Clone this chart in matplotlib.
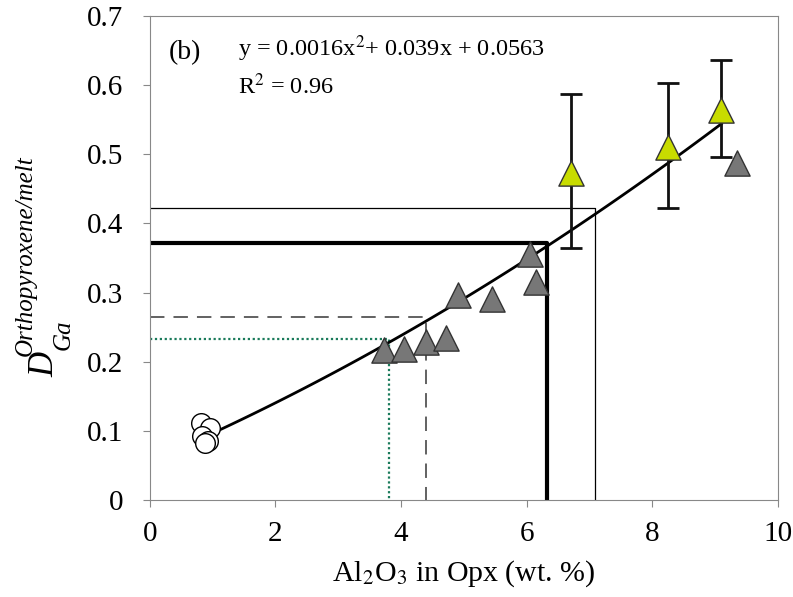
import numpy as np
import matplotlib.pyplot as plt

plt.rcParams['font.family'] = 'Liberation Serif'
plt.rcParams['mathtext.fontset'] = 'stix'

# data
circ_x = [0.82, 0.95, 0.83, 0.93, 0.88]
circ_y = [0.112, 0.104, 0.093, 0.086, 0.082]

gray_x = [3.72, 4.05, 4.4, 4.72, 4.9, 5.45, 6.05, 6.15, 9.35]
gray_y = [0.217, 0.218, 0.229, 0.234, 0.297, 0.29, 0.355, 0.315, 0.487]

green_x = [6.7, 8.25, 9.1]
green_y = [0.473, 0.51, 0.563]
green_hi = [0.587, 0.602, 0.636]
green_lo = [0.365, 0.422, 0.496]

fit_coef = [0.0016, 0.039, 0.0563]
fit_range = [0.9, 9.1]

# reference lines: (x, y)
thin_ref = (7.08, 0.422)
thick_ref = (6.33, 0.371)
dash_ref = (4.4, 0.265)
dot_ref = (3.8, 0.233)

fig = plt.figure(figsize=(7.93, 5.97), dpi=100)
ax = fig.add_axes([0.189, 0.162, 0.792, 0.812])

xf = np.linspace(fit_range[0], fit_range[1], 100)
ax.plot(xf, np.polyval(fit_coef, xf), color='black', lw=2, zorder=3)

ax.plot([0, thin_ref[0], thin_ref[0]], [thin_ref[1], thin_ref[1], 0], color='black', lw=0.9, zorder=2)
ax.plot([0, thick_ref[0], thick_ref[0]], [thick_ref[1], thick_ref[1], 0], color='black', lw=3, zorder=2)
ax.plot([0, dash_ref[0], dash_ref[0]], [dash_ref[1], dash_ref[1], 0], color='#555555', lw=1.3,
        ls=(0, (8, 5)), zorder=2)
ax.plot([0, dot_ref[0], dot_ref[0]], [dot_ref[1], dot_ref[1], 0], color='#1a7a5a', lw=1.6,
        ls=(0, (1, 1.2)), zorder=2)

ax.scatter(circ_x, circ_y, s=200, facecolor='white', edgecolor='black', lw=1, zorder=4)
ax.scatter(gray_x, gray_y, marker='^', s=330, facecolor='#777777', edgecolor='#333333', lw=1, zorder=4)

gy = np.array(green_y)
yerr = [gy - np.array(green_lo), np.array(green_hi) - gy]
ax.errorbar(green_x, green_y, yerr=yerr, fmt='none', ecolor='#111111', elinewidth=2,
            capsize=8, capthick=2, zorder=3)
ax.scatter(green_x, green_y, marker='^', s=330, facecolor='#c8dc00', edgecolor='#333333', lw=1, zorder=5)

ax.text(0.3, 0.647, '(b)', fontsize=20, va='center')
ax.text(1.4, 0.652, r'y = 0.0016x$^{2}$+ 0.039x + 0.0563', fontsize=17.5, va='center')
ax.text(1.4, 0.597, r'R$^{2}$ = 0.96', fontsize=17.5, va='center')

ax.set_xlim(0, 10)
ax.set_ylim(0, 0.7)
ax.set_xticks([0, 2, 4, 6, 8, 10])
ax.set_yticks(np.arange(0, 0.71, 0.1))
ax.set_yticklabels(['0', '0.1', '0.2', '0.3', '0.4', '0.5', '0.6', '0.7'])
ax.tick_params(labelsize=21, direction='out', length=5, color='#888888')
ax.tick_params(axis='y', pad=14)
ax.tick_params(axis='x', pad=10)
for s in ax.spines.values():
    s.set_color('#888888')

ax.set_xlabel(r'Al$_2$O$_3$ in Opx (wt. %)', fontsize=21.5, labelpad=8)

# y label built by hand: D, subscript Ga, superscript Orthopyroxene/melt
fig.text(0.057, 0.389, 'D', fontsize=25, style='italic', rotation=90, ha='center', va='center')
fig.text(0.080, 0.440, 'Ga', fontsize=18, style='italic', rotation=90, ha='center', va='center')
fig.text(0.032, 0.571, 'Orthopyroxene/melt', fontsize=18, style='italic', rotation=90,
         ha='center', va='center')

fig.savefig('out.png', dpi=100)
